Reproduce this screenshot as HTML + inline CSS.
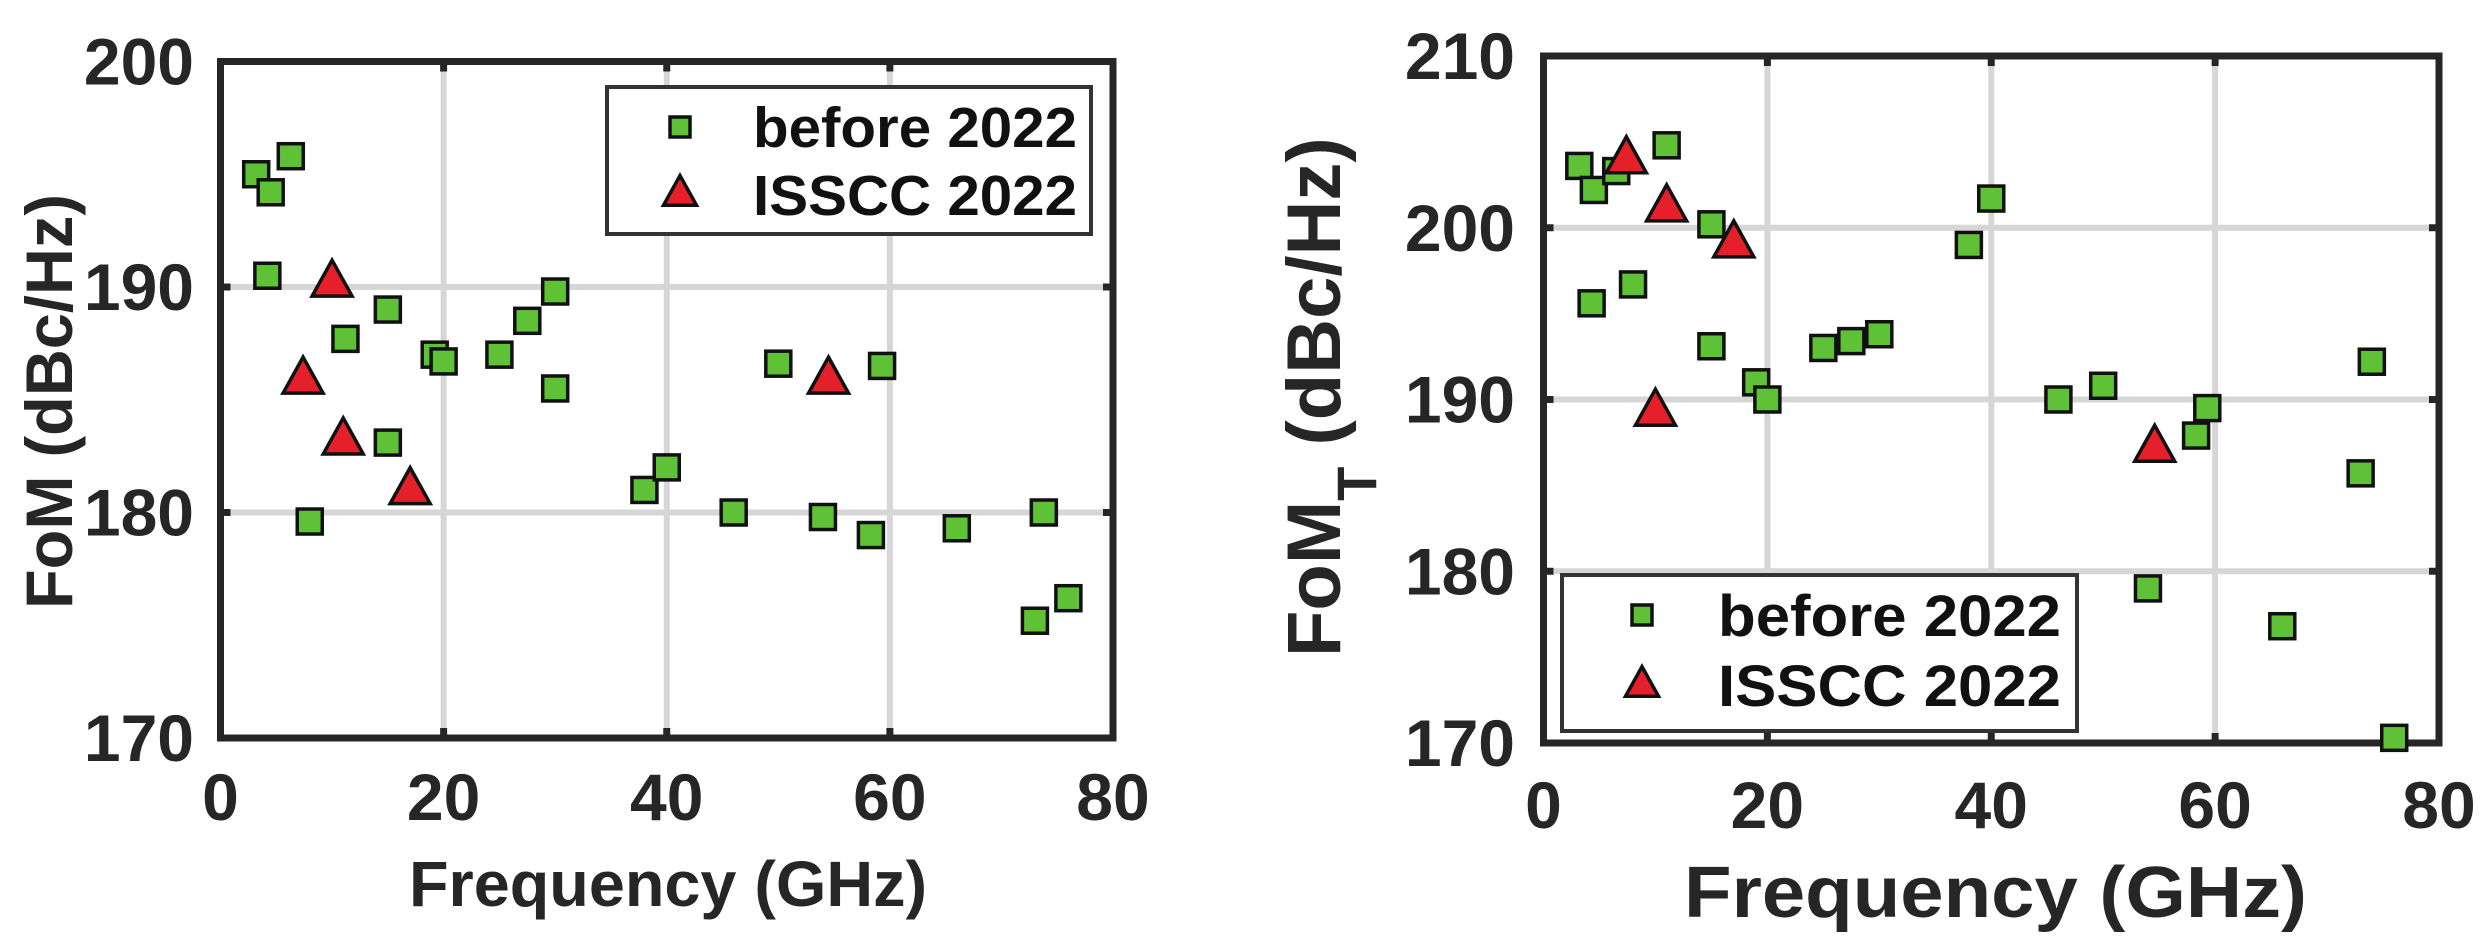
<!DOCTYPE html>
<html><head><meta charset="utf-8"><style>
html,body{margin:0;padding:0;background:#fff;}
svg{display:block;font-family:"Liberation Sans",Arial,sans-serif;font-weight:bold;}
</style></head><body>
<svg id="chart" width="2487" height="946" viewBox="0 0 2487 946"></svg>
<script>
// ---- Data: left chart (FoM) ----
const xTicks = [0, 20, 40, 60, 80];
const leftYTicks = [170, 180, 190, 200];
const rightYTicks = [170, 180, 190, 200, 210];
const leftSqX = [3.2, 4.5, 6.3, 4.2, 8, 11.2, 15, 15, 19.2, 20, 25, 27.5, 30, 30, 38, 40, 46, 50, 54, 58.3, 59.3, 66, 73, 73.8, 76];
const leftSqY = [195, 194.2, 195.8, 190.5, 179.6, 187.7, 189, 183.1, 187, 186.7, 187, 188.5, 189.8, 185.5, 181, 182, 180, 186.6, 179.8, 179, 186.5, 179.3, 175.2, 180, 176.2];
const leftTriX = [10, 7.4, 11, 17, 54.5];
const leftTriY = [190.2, 185.9, 183.2, 181, 185.9];
// ---- Data: right chart (FoM_T) ----
const rightSqX = [3.2, 4.5, 6.5, 4.3, 8, 11, 15, 15, 19, 20, 25, 27.5, 30, 38, 40, 46, 50, 54, 58.3, 59.3, 66, 73, 74, 76];
const rightSqY = [203.6, 202.2, 203.3, 195.6, 196.7, 204.8, 200.2, 193.1, 191, 190, 193, 193.4, 193.8, 199, 201.7, 190, 190.8, 179, 187.9, 189.5, 176.8, 185.7, 192.2, 170.3];
const rightTriX = [7.4, 11, 17, 10, 54.6];
const rightTriY = [204, 201.2, 199.1, 189.3, 187.2];
const seriesNames = ["before 2022", "ISSCC 2022"];

const NS = "http://www.w3.org/2000/svg";
const svg = document.getElementById("chart");
function mk(tag, attrs, parent, txt) {
  const e = document.createElementNS(NS, tag);
  for (const k in attrs) e.setAttribute(k, attrs[k]);
  if (txt !== undefined) e.textContent = txt;
  (parent || svg).appendChild(e);
  return e;
}
const GREEN = "#5fc236", RED = "#e6202a", AX = "#262626", GRID = "#d6d6d6";

function sq(g, cx, cy, s, name) {
  const r = mk("rect", {x: cx - s/2, y: cy - s/2, width: s, height: s, fill: GREEN, stroke: "#111", "stroke-width": 3.5}, g);
  
  
}
function tri(g, cx, cy, w, name) {
  const h = w * 0.9;
  const p = mk("polygon", {points: `${cx},${cy - h*0.62} ${cx - w/2},${cy + h*0.38} ${cx + w/2},${cy + h*0.38}`, fill: RED, stroke: "#111", "stroke-width": 3.5, "stroke-linejoin": "miter"}, g);
  
  
}

function chart(cfg) {
  const g = mk("g", {});
  
  
  const {L, R, T, B, yMin, yMax, yTicks} = cfg;
  const xs = v => L + (v - 0) / 80 * (R - L);
  const ys = v => B - (v - yMin) / (yMax - yMin) * (B - T);
  // grid
  xTicks.forEach(v => { if (v > 0 && v < 80) { const l = mk("line", {x1: xs(v), x2: xs(v), y1: T, y2: B, stroke: GRID, "stroke-width": 6}, g);   } });
  yTicks.forEach(v => { if (v > yMin && v < yMax) { const l = mk("line", {x1: L, x2: R, y1: ys(v), y2: ys(v), stroke: GRID, "stroke-width": 6}, g);   } });
  // ticks
  yTicks.forEach(v => {
    mk("line", {x1: L, x2: L + 10, y1: ys(v), y2: ys(v), stroke: AX, "stroke-width": 7}, g);
    mk("line", {x1: R, x2: R - 10, y1: ys(v), y2: ys(v), stroke: AX, "stroke-width": 7}, g);
    const t = mk("text", {x: cfg.yLabX, y: ys(v) + 23, "text-anchor": "end", "font-size": 66, fill: AX}, g, String(v));
    
    
  });
  xTicks.forEach(v => {
    mk("line", {x1: xs(v), x2: xs(v), y1: B, y2: B - 10, stroke: AX, "stroke-width": 7}, g);
    mk("line", {x1: xs(v), x2: xs(v), y1: T, y2: T + 10, stroke: AX, "stroke-width": 7}, g);
    const t = mk("text", {x: xs(v), y: cfg.xLabY, "text-anchor": "middle", "font-size": 66, fill: AX}, g, String(v));
    
    
  });
  // frame
  const fr = mk("rect", {x: L, y: T, width: R - L, height: B - T, fill: "none", stroke: AX, "stroke-width": 7}, g);
  
  
  // markers
  cfg.sqX.forEach((v, i) => sq(g, xs(v), ys(cfg.sqY[i]), 25, 'point-before-2022'));
  cfg.triX.forEach((v, i) => tri(g, xs(v), ys(cfg.triY[i]), 40, 'point-isscc-2022'));
  // legend
  const lg = mk("g", {}, g);
  
  
  const Lg = cfg.leg;
  mk("rect", {x: Lg.x, y: Lg.y, width: Lg.w, height: Lg.h, fill: "#fff", stroke: "#333", "stroke-width": 4}, lg);
  sq(lg, Lg.mx, Lg.m1, 20, 'legend-square-marker');
  tri(lg, Lg.mx, Lg.m2, 33, 'legend-triangle-marker');
  const e1 = mk("text", {x: Lg.tx, y: Lg.b1, "font-size": Lg.fs, fill: "#111", textLength: Lg.tw, lengthAdjust: "spacingAndGlyphs"}, lg, seriesNames[0]);
  
  
  const e2 = mk("text", {x: Lg.tx, y: Lg.b2, "font-size": Lg.fs, fill: "#111", textLength: Lg.tw, lengthAdjust: "spacingAndGlyphs"}, lg, seriesNames[1]);
  
  
  // x axis title
  const xt = mk("text", {x: cfg.xt.x, y: cfg.xt.y, "font-size": cfg.xt.fs, fill: AX, textLength: cfg.xt.w, lengthAdjust: "spacingAndGlyphs"}, g, "Frequency (GHz)");
  
  
  return {g, xs, ys};
}

const c1 = chart({name: "fom-chart", L: 220.5, R: 1113, T: 61.5, B: 738, yMin: 170, yMax: 200, yTicks: leftYTicks,
  sqX: leftSqX, sqY: leftSqY, triX: leftTriX, triY: leftTriY, yLabX: 194, xLabY: 820,
  leg: {x: 607, y: 87, w: 484, h: 147, mx: 680, m1: 127, m2: 194, tx: 753, b1: 147, b2: 215, tw: 324, fs: 57},
  xt: {x: 409, y: 906, fs: 64, w: 518}});
const yt1 = mk("text", {x: 0, y: 0, "font-size": 66, fill: AX, transform: "translate(72,609) rotate(-90)", textLength: 415, lengthAdjust: "spacingAndGlyphs"}, c1.g, "FoM (dBc/Hz)");



const c2 = chart({name: "fomt-chart", L: 1543.5, R: 2439, T: 56, B: 743, yMin: 170, yMax: 210, yTicks: rightYTicks,
  sqX: rightSqX, sqY: rightSqY, triX: rightTriX, triY: rightTriY, yLabX: 1515, xLabY: 828,
  leg: {x: 1562, y: 575, w: 515, h: 156, mx: 1642, m1: 615, m2: 685, tx: 1718, b1: 636, b2: 706, tw: 343, fs: 58},
  xt: {x: 1684, y: 917, fs: 72, w: 623}});
const yt2 = mk("text", {x: 0, y: 0, "font-size": 76, fill: AX, transform: "translate(1340,657) rotate(-90)"}, c2.g);


mk("tspan", {}, yt2, "FoM");
mk("tspan", {"font-size": 56, dy: 36}, yt2, "T");
mk("tspan", {dy: -36}, yt2, " (dBc/Hz)");
</script>
</body></html>
